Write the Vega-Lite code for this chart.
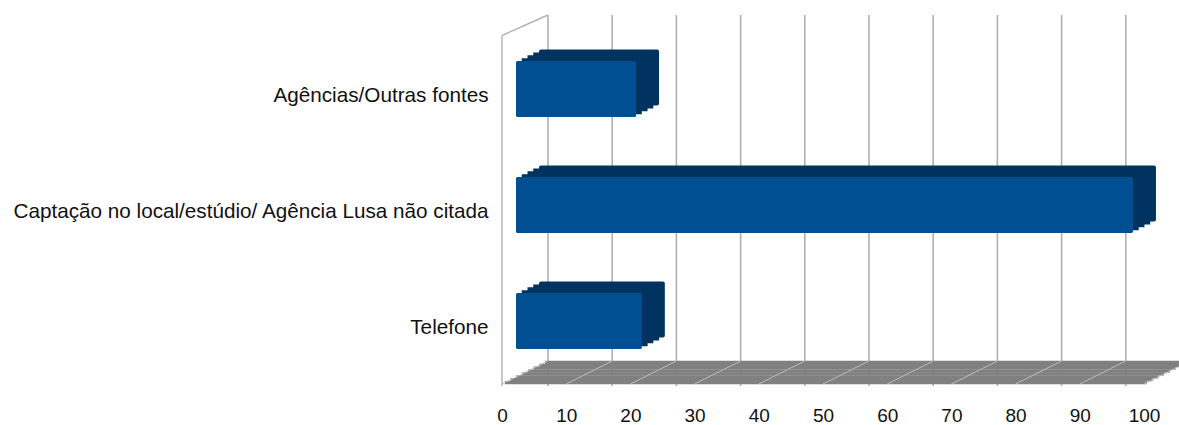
{
  "$schema": "https://vega.github.io/schema/vega-lite/v6.json",
  "width": 642,
  "height": 348,
  "autosize": "none",
  "padding": {"left": 502, "top": 38, "right": 35, "bottom": 39},
  "background": "white",
  "config": {
    "view": {"stroke": null},
    "font": "Liberation Sans",
    "axisX": {"domain": false, "ticks": false, "tickSize": 0, "grid": false, "labelFontSize": 19, "labelPadding": 20, "labelColor": "#111111", "labelFlush": false, "labelFont": "Liberation Sans"},
    "axisY": {"domain": false, "ticks": false, "tickSize": 0, "grid": false, "labelFontSize": 20.7, "labelPadding": 14, "labelLimit": 700, "labelColor": "#111111", "labelFont": "Liberation Sans"}
  },
  "datasets": {
    "fontes": [
      {"fonte": "Agências/Outras fontes", "valor": 18.7},
      {"fonte": "Captação no local/estúdio/ Agência Lusa não citada", "valor": 96.1},
      {"fonte": "Telefone", "valor": 19.6}
    ],
    "ticks": [{"t": 0}, {"t": 10}, {"t": 20}, {"t": 30}, {"t": 40}, {"t": 50}, {"t": 60}, {"t": 70}, {"t": 80}, {"t": 90}, {"t": 100}]
  },
  "data": {"name": "fontes"},
  "layer": [
    {
      "data": {"name": "ticks"},
      "mark": {"type": "rule", "color": "#b0b0b0", "strokeWidth": 1.6, "xOffset": 46, "yOffset": -23},
      "encoding": {"x": {"field": "t", "type": "quantitative", "scale": {"domain": [0, 100], "nice": false}, "axis": {"title": null, "values": [0, 10, 20, 30, 40, 50, 60, 70, 80, 90, 100]}}}
    },
    {
      "data": {"values": [{}]},
      "mark": {"type": "rule", "color": "#b0b0b0", "strokeWidth": 1.4, "yOffset": -2},
      "encoding": {"x": {"datum": 0}}
    },
    {
      "data": {"values": [{}]},
      "mark": {"type": "rule", "color": "#b0b0b0", "strokeWidth": 1.4, "x2Offset": 46},
      "encoding": {"x": {"datum": 0}, "x2": {"datum": 0}, "y": {"value": {"expr": "-2.5"}}, "y2": {"value": {"expr": "-23"}}}
    },
    {"data": {"values": [{}]}, "mark": {"type": "rule", "color": "#808080", "strokeWidth": 3.3, "xOffset": 2.875, "x2Offset": 2.875, "yOffset": {"expr": "height/2 - 2 - 2.875*0.5"}}, "encoding": {"x": {"datum": 0}, "x2": {"datum": 100}}},
    {"data": {"values": [{}]}, "mark": {"type": "rule", "color": "#808080", "strokeWidth": 3.3, "xOffset": 8.625, "x2Offset": 8.625, "yOffset": {"expr": "height/2 - 2 - 2.875*1.5"}}, "encoding": {"x": {"datum": 0}, "x2": {"datum": 100}}},
    {"data": {"values": [{}]}, "mark": {"type": "rule", "color": "#808080", "strokeWidth": 3.3, "xOffset": 14.375, "x2Offset": 14.375, "yOffset": {"expr": "height/2 - 2 - 2.875*2.5"}}, "encoding": {"x": {"datum": 0}, "x2": {"datum": 100}}},
    {"data": {"values": [{}]}, "mark": {"type": "rule", "color": "#808080", "strokeWidth": 3.3, "xOffset": 20.125, "x2Offset": 20.125, "yOffset": {"expr": "height/2 - 2 - 2.875*3.5"}}, "encoding": {"x": {"datum": 0}, "x2": {"datum": 100}}},
    {"data": {"values": [{}]}, "mark": {"type": "rule", "color": "#808080", "strokeWidth": 3.3, "xOffset": 25.875, "x2Offset": 25.875, "yOffset": {"expr": "height/2 - 2 - 2.875*4.5"}}, "encoding": {"x": {"datum": 0}, "x2": {"datum": 100}}},
    {"data": {"values": [{}]}, "mark": {"type": "rule", "color": "#808080", "strokeWidth": 3.3, "xOffset": 31.625, "x2Offset": 31.625, "yOffset": {"expr": "height/2 - 2 - 2.875*5.5"}}, "encoding": {"x": {"datum": 0}, "x2": {"datum": 100}}},
    {"data": {"values": [{}]}, "mark": {"type": "rule", "color": "#808080", "strokeWidth": 3.3, "xOffset": 37.375, "x2Offset": 37.375, "yOffset": {"expr": "height/2 - 2 - 2.875*6.5"}}, "encoding": {"x": {"datum": 0}, "x2": {"datum": 100}}},
    {"data": {"values": [{}]}, "mark": {"type": "rule", "color": "#808080", "strokeWidth": 3.3, "xOffset": 43.125, "x2Offset": 43.125, "yOffset": {"expr": "height/2 - 2 - 2.875*7.5"}}, "encoding": {"x": {"datum": 0}, "x2": {"datum": 100}}},
    {
      "data": {"name": "ticks"},
      "mark": {"type": "rule", "color": "#bdbdbd", "strokeWidth": 1, "x2Offset": 46},
      "encoding": {"x": {"field": "t", "type": "quantitative"}, "x2": {"field": "t"}, "y": {"value": {"expr": "height - 2"}}, "y2": {"value": {"expr": "height - 25"}}}
    },
    {
      "mark": {"type": "bar", "color": "#00335f", "height": 56, "cornerRadius": 2, "xOffset": 37, "x2Offset": 37, "yOffset": -18.5, "y2Offset": -18.5},
      "encoding": {
        "y": {"field": "fonte", "type": "nominal", "sort": null, "scale": {"paddingInner": 0.52, "paddingOuter": 0.26}, "axis": {"title": null}},
        "x": {"field": "valor", "type": "quantitative", "axis": {"title": null, "values": [0, 10, 20, 30, 40, 50, 60, 70, 80, 90, 100]}},
        "x2": {"datum": 0}
      }
    },
    {
      "mark": {"type": "bar", "color": "#00335f", "height": 56, "xOffset": 31.25, "x2Offset": 31.25, "yOffset": -15.625, "y2Offset": -15.625},
      "encoding": {
        "y": {"field": "fonte", "type": "nominal", "sort": null, "axis": {"title": null}},
        "x": {"field": "valor", "type": "quantitative"},
        "x2": {"datum": 0}
      }
    },
    {
      "mark": {"type": "bar", "color": "#00335f", "height": 56, "xOffset": 25.5, "x2Offset": 25.5, "yOffset": -12.75, "y2Offset": -12.75},
      "encoding": {
        "y": {"field": "fonte", "type": "nominal", "sort": null, "axis": {"title": null}},
        "x": {"field": "valor", "type": "quantitative"},
        "x2": {"datum": 0}
      }
    },
    {
      "mark": {"type": "bar", "color": "#00335f", "height": 56, "xOffset": 19.75, "x2Offset": 19.75, "yOffset": -9.875, "y2Offset": -9.875},
      "encoding": {
        "y": {"field": "fonte", "type": "nominal", "sort": null, "axis": {"title": null}},
        "x": {"field": "valor", "type": "quantitative"},
        "x2": {"datum": 0}
      }
    },
    {
      "mark": {"type": "bar", "color": "#004f93", "height": 56, "cornerRadius": 1.5, "xOffset": 14, "x2Offset": 14, "yOffset": -7, "y2Offset": -7},
      "encoding": {
        "y": {"field": "fonte", "type": "nominal", "sort": null, "axis": {"title": null}},
        "x": {"field": "valor", "type": "quantitative"},
        "x2": {"datum": 0}
      }
    }
  ]
}
